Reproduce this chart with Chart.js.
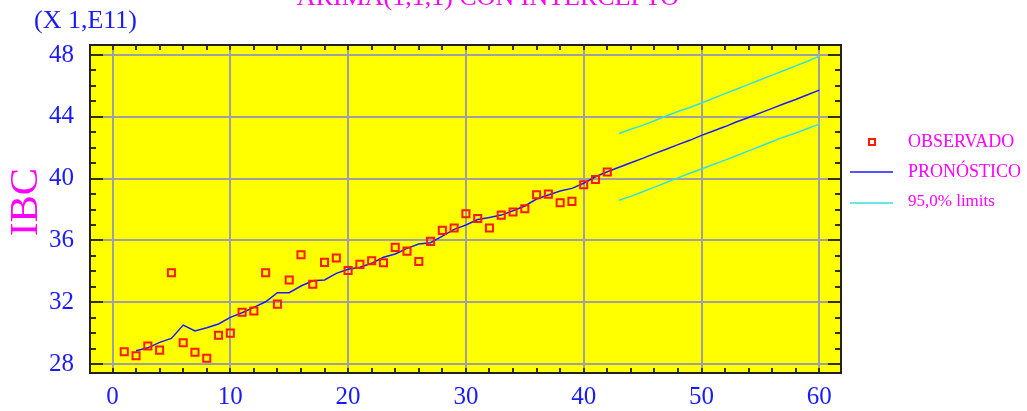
<!DOCTYPE html>
<html>
<head>
<meta charset="utf-8">
<script src="https://cdn.jsdelivr.net/npm/chart.js@4"></script>
<style>
  body { margin: 0; background: #ffffff; }
  #wrap { width: 1027px; height: 411px; }
</style>
</head>
<body>
<div id="wrap"><canvas id="arimaChart" width="1027" height="411"></canvas></div>
<script>
// Data
const observedStart = 1;
const observedValues = [
    28.80, 28.54, 29.17, 28.90, 33.91, 29.38, 28.76, 28.37, 29.86, 30.00,
    31.35, 31.43, 33.91, 31.88, 33.44, 35.07, 33.16, 34.58, 34.86, 34.06,
    34.45, 34.69, 34.56, 35.55, 35.31, 34.64, 35.94, 36.65, 36.80, 37.73,
    37.42, 36.80, 37.64, 37.84, 38.05, 38.96, 39.00, 38.44, 38.53, 39.60,
    39.95, 40.43
];

const forecastStart = 2;
const forecastValues = [
    28.86, 29.05, 29.40, 29.66, 30.52, 30.14, 30.35, 30.59, 31.02, 31.32,
    31.67, 32.03, 32.62, 32.62, 33.05, 33.39, 33.44, 33.87, 34.13, 34.26,
    34.52, 34.91, 35.12, 35.49, 35.77, 35.85, 36.28, 36.72, 37.00, 37.35,
    37.49, 37.64, 37.92, 38.23, 38.68, 38.94, 39.20, 39.37, 39.70, 40.12,
    40.45, 40.74, 41.03, 41.31, 41.62, 41.90, 42.20, 42.48, 42.80, 43.08,
    43.37, 43.68, 43.96, 44.26, 44.55, 44.85, 45.12, 45.43, 45.73
];

const limitsStart = 43;
const upperLimits = [
    42.92, 43.20, 43.45, 43.75, 44.05, 44.35, 44.60, 44.90, 45.20,
    45.50, 45.80, 46.10, 46.40, 46.70, 47.00, 47.30, 47.60, 47.93
];
const lowerLimits = [
    38.60, 38.85, 39.15, 39.45, 39.75, 40.05, 40.35, 40.62, 40.92,
    41.20, 41.50, 41.80, 42.10, 42.40, 42.70, 42.95, 43.25, 43.53
];

const xTickLabels = [0, 10, 20, 30, 40, 50, 60];
const yTickLabels = [28, 32, 36, 40, 44, 48];

const seriesNames = ['OBSERVADO', 'PRONÓSTICO', '95,0% limits'];
const chartTitle = 'ARIMA(1,1,1) CON INTERCEPTO';
const yAxisTitle = 'IBC';
const scaleNote = '(X 1,E11)';

const MAGENTA = '#ff00ff';
const BLUE = '#1a1aff';
const RED = '#ff1a00';
const CYAN = '#33e0e0';
const SERIF = "'Liberation Serif', 'DejaVu Serif', serif";

function toPoints(values, start) {
    return values.map((v, i) => ({ x: start + i, y: v }));
}

// Frame, inner tick marks, titles and legend
const decorations = {
    id: 'decorations',
    beforeDraw(c) {
        const { ctx, chartArea: a } = c;
        ctx.save();
        ctx.fillStyle = '#ffff00';
        ctx.fillRect(a.left, a.top, a.right - a.left, a.bottom - a.top);
        ctx.restore();
    },
    afterDraw(c) {
        const { ctx, chartArea: a } = c;
        const xs = c.scales.x, ys = c.scales.y;
        ctx.save();

        // tick marks inside the frame
        ctx.strokeStyle = '#333300';
        ctx.lineWidth = 2;
        ctx.beginPath();
        for (let v = 0; v <= 60; v += 2) {
            const px = Math.round(xs.getPixelForValue(v));
            ctx.moveTo(px, a.top); ctx.lineTo(px, a.top + 5);
            ctx.moveTo(px, a.bottom); ctx.lineTo(px, a.bottom - 5);
        }
        for (let v = 28; v <= 48; v += 1) {
            const py = Math.round(ys.getPixelForValue(v));
            const len = v % 4 === 0 ? 13 : 6;
            ctx.moveTo(a.left, py); ctx.lineTo(a.left + len, py);
            ctx.moveTo(a.right, py); ctx.lineTo(a.right - len, py);
        }
        ctx.stroke();

        // frame
        ctx.strokeStyle = '#202020';
        ctx.lineWidth = 2;
        ctx.strokeRect(a.left, a.top, a.right - a.left, a.bottom - a.top);

        // titles
        ctx.fillStyle = MAGENTA;
        ctx.font = '26px ' + SERIF;
        ctx.textAlign = 'center';
        ctx.textBaseline = 'alphabetic';
        ctx.fillText(chartTitle, 488, 5);

        ctx.fillStyle = BLUE;
        ctx.textAlign = 'left';
        ctx.fillText(scaleNote, 34, 28);

        ctx.save();
        ctx.translate(25, 202);
        ctx.rotate(-Math.PI / 2);
        ctx.fillStyle = MAGENTA;
        ctx.font = '41px ' + SERIF;
        ctx.textAlign = 'center';
        ctx.textBaseline = 'middle';
        ctx.fillText(yAxisTitle, 0, 1);
        ctx.restore();

        // legend
        ctx.textAlign = 'left';
        ctx.textBaseline = 'middle';
        ctx.fillStyle = MAGENTA;
        ctx.font = '18px ' + SERIF;
        ctx.fillText(seriesNames[0], 908, 142);
        ctx.fillText(seriesNames[1], 908, 172);
        ctx.font = '17px ' + SERIF;
        ctx.fillText(seriesNames[2], 908, 202);

        ctx.strokeStyle = RED;
        ctx.lineWidth = 2;
        ctx.strokeRect(869, 139, 6, 6);

        ctx.lineWidth = 1.5;
        ctx.strokeStyle = BLUE;
        ctx.beginPath(); ctx.moveTo(850, 172); ctx.lineTo(893, 172); ctx.stroke();
        ctx.strokeStyle = CYAN;
        ctx.beginPath(); ctx.moveTo(850, 203); ctx.lineTo(893, 203); ctx.stroke();

        ctx.restore();
    }
};

const tickFont = { family: SERIF, size: 25 };

new Chart(document.getElementById('arimaChart').getContext('2d'), {
    type: 'line',
    data: {
        datasets: [
            {
                label: seriesNames[0],
                data: toPoints(observedValues, observedStart),
                showLine: false,
                pointStyle: 'rect',
                pointRadius: 5,
                borderWidth: 2,
                borderColor: RED,
                backgroundColor: 'rgba(0,0,0,0)'
            },
            {
                label: seriesNames[1],
                data: toPoints(forecastValues, forecastStart),
                borderColor: BLUE,
                borderWidth: 1.5,
                pointRadius: 0,
                tension: 0
            },
            {
                label: seriesNames[2],
                data: toPoints(upperLimits, limitsStart),
                borderColor: CYAN,
                borderWidth: 1.5,
                pointRadius: 0,
                tension: 0
            },
            {
                label: seriesNames[2] + ' (lower)',
                data: toPoints(lowerLimits, limitsStart),
                borderColor: CYAN,
                borderWidth: 1.5,
                pointRadius: 0,
                tension: 0
            }
        ]
    },
    options: {
        responsive: false,
        animation: false,
        layout: { padding: { left: 0, top: 45, right: 186, bottom: 0 } },
        plugins: {
            legend: { display: false },
            tooltip: { enabled: false },
            title: { display: false }
        },
        scales: {
            x: {
                type: 'linear',
                min: -1.91,
                max: 61.84,
                afterBuildTicks: (s) => { s.ticks = xTickLabels.map(v => ({ value: v })); },
                afterFit: (s) => { s.height = 38; },
                border: { display: false },
                grid: { color: '#a0a0a0', lineWidth: 2, drawTicks: false },
                ticks: { color: BLUE, font: tickFont, padding: 9, maxRotation: 0, autoSkip: false, callback: (v) => v }
            },
            y: {
                type: 'linear',
                min: 27.42,
                max: 48.65,
                afterBuildTicks: (s) => { s.ticks = yTickLabels.map(v => ({ value: v })); },
                afterFit: (s) => { s.width = 90; },
                border: { display: false },
                grid: { color: '#a0a0a0', lineWidth: 2, drawTicks: false },
                ticks: { color: BLUE, font: tickFont, padding: 16, autoSkip: false, callback: (v) => v }
            }
        }
    },
    plugins: [decorations]
});
</script>
</body>
</html>
